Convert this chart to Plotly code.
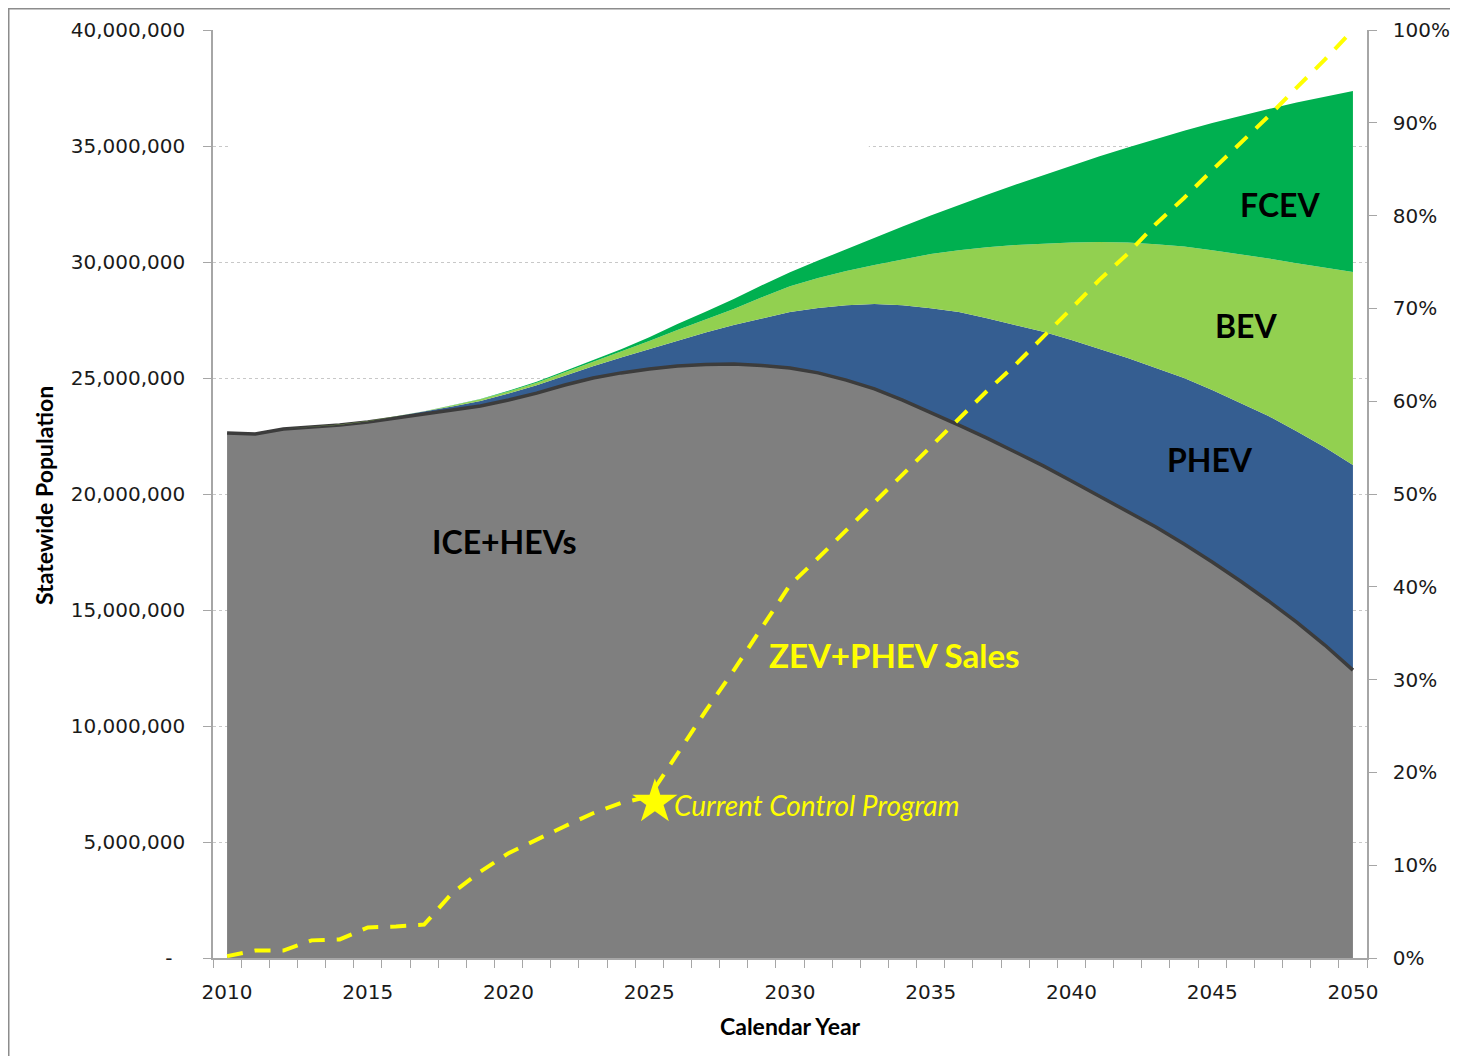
import plotly.graph_objects as go

# ---------------- data ----------------
years = list(range(2010, 2051))

# statewide population by technology, in millions of vehicles
ice_hev_m = [22.63, 22.59, 22.80, 22.89, 22.97, 23.10, 23.28, 23.45, 23.62, 23.79,
             24.05, 24.35, 24.70, 25.00, 25.22, 25.39, 25.52, 25.58, 25.60, 25.54,
             25.43, 25.22, 24.91, 24.53, 24.05, 23.53, 22.97, 22.41, 21.81, 21.21,
             20.56, 19.91, 19.27, 18.58, 17.84, 17.07, 16.25, 15.39, 14.48, 13.49,
             12.41]
phev_m = [0.00, 0.00, 0.01, 0.01, 0.02, 0.04, 0.06, 0.09, 0.15, 0.22,
          0.28, 0.34, 0.41, 0.51, 0.66, 0.86, 1.10, 1.38, 1.68, 2.03,
          2.41, 2.80, 3.23, 3.66, 4.09, 4.48, 4.87, 5.17, 5.47, 5.78,
          6.08, 6.34, 6.59, 6.85, 7.16, 7.41, 7.67, 7.97, 8.23, 8.53,
          8.84]
bev_m = [0.00, 0.00, 0.00, 0.00, 0.01, 0.01, 0.02, 0.03, 0.05, 0.07,
         0.09, 0.11, 0.14, 0.18, 0.25, 0.34, 0.45, 0.56, 0.69, 0.91,
         1.12, 1.29, 1.47, 1.68, 1.98, 2.33, 2.67, 3.06, 3.45, 3.81,
         4.20, 4.61, 4.98, 5.34, 5.67, 6.03, 6.42, 6.79, 7.24, 7.74,
         8.32]
fcev_m = [0.00, 0.00, 0.00, 0.00, 0.00, 0.00, 0.00, 0.00, 0.01, 0.02,
          0.03, 0.04, 0.05, 0.07, 0.11, 0.17, 0.26, 0.34, 0.43, 0.52,
          0.60, 0.75, 0.95, 1.18, 1.41, 1.66, 1.95, 2.26, 2.60, 2.95,
          3.32, 3.70, 4.10, 4.54, 4.99, 5.48, 5.96, 6.44, 6.92, 7.37,
          7.80]

# ZEV+PHEV share of new sales (%)
zev_phev_sales_pct = [0.2, 0.8, 0.8, 1.9, 2.0, 3.3, 3.4, 3.6, 7.0, 9.3,
                      11.3, 12.8, 14.2, 15.6, 16.7, 17.4, 22.0, 26.6, 31.0, 35.6,
                      40.2, 43.1, 46.1, 49.0, 52.0, 55.1, 58.0, 61.1, 63.9, 66.9,
                      70.0, 73.1, 75.9, 79.1, 81.9, 84.9, 87.8, 90.7, 93.8, 96.8,
                      100.0]

current_program_year = [2025.2]
current_program_pct = [16.8]

x_tick_years = [2010, 2015, 2020, 2025, 2030, 2035, 2040, 2045, 2050]
y_tick_vals = [0, 5e6, 10e6, 15e6, 20e6, 25e6, 30e6, 35e6, 40e6]
y_tick_text = ["-\u00a0\u00a0", "5,000,000", "10,000,000", "15,000,000", "20,000,000",
               "25,000,000", "30,000,000", "35,000,000", "40,000,000"]
y2_tick_vals = [0, 10, 20, 30, 40, 50, 60, 70, 80, 90, 100]
y2_tick_text = ["0%", "10%", "20%", "30%", "40%", "50%", "60%", "70%", "80%",
                "90%", "100%"]

M = 1e6
ice_hev = [v * M for v in ice_hev_m]
phev = [v * M for v in phev_m]
bev = [v * M for v in bev_m]
fcev = [v * M for v in fcev_m]

# ---------------- figure ----------------
fig = go.Figure()

fig.add_trace(go.Scatter(x=years, y=ice_hev, stackgroup="pop", mode="lines",
                         name="ICE+HEVs", fillcolor="#7f7f7f",
                         line=dict(color="#3c3c3c", width=3.5)))
fig.add_trace(go.Scatter(x=years, y=phev, stackgroup="pop", mode="lines",
                         name="PHEV", fillcolor="#355e91",
                         line=dict(color="#355e91", width=0)))
fig.add_trace(go.Scatter(x=years, y=bev, stackgroup="pop", mode="lines",
                         name="BEV", fillcolor="#92d050",
                         line=dict(color="#92d050", width=0)))
fig.add_trace(go.Scatter(x=years, y=fcev, stackgroup="pop", mode="lines",
                         name="FCEV", fillcolor="#00b050",
                         line=dict(color="#00b050", width=0)))

fig.add_trace(go.Scatter(x=years, y=zev_phev_sales_pct, yaxis="y2", mode="lines",
                         name="ZEV+PHEV Sales",
                         line=dict(color="#ffff00", width=4, dash="16px,12px")))
fig.add_trace(go.Scatter(x=current_program_year, y=current_program_pct, yaxis="y2",
                         mode="markers", name="Current Control Program",
                         marker=dict(symbol="star", size=34, color="#ffff00",
                                     line=dict(width=0))))

tick_font = dict(family="DejaVu Sans", size=20, color="#1a1a1a")
axis_grey = "#a6a6a6"

# the figure sits inside the page's 8px body margin
fig.update_layout(
    width=1450, height=1048,
    margin=dict(l=205, r=91, t=22, b=98, autoexpand=False),
    paper_bgcolor="white", plot_bgcolor="white",
    showlegend=False,
    xaxis=dict(range=[2009.5, 2050.5], tickmode="array", tickvals=x_tick_years,
               ticks="", showgrid=False, zeroline=False, automargin=False,
               showline=True, linecolor=axis_grey, linewidth=1.5,
               tickfont=tick_font, ticklabelstandoff=15,
               minor=dict(tick0=2009.5, dtick=1, ticks="outside", ticklen=8,
                          tickcolor=axis_grey, tickwidth=1, showgrid=False)),
    yaxis=dict(range=[0, 40e6], tickmode="array", tickvals=y_tick_vals,
               ticktext=y_tick_text, ticks="outside", ticklen=8, automargin=False,
               tickcolor=axis_grey, showline=True, linecolor=axis_grey,
               linewidth=1.5, showgrid=True, gridcolor="#c8c8c8", griddash="dot",
               gridwidth=1, zeroline=False, tickfont=tick_font,
               ticklabelstandoff=14),
    yaxis2=dict(range=[0, 100], overlaying="y", side="right", tickmode="array",
                tickvals=y2_tick_vals, ticktext=y2_tick_text, ticks="outside",
                ticklen=8, tickcolor=axis_grey, showline=True, linecolor=axis_grey,
                linewidth=1.5, showgrid=False, zeroline=False, tickfont=tick_font,
                ticklabelstandoff=12, automargin=False),
)

# outer frame of the picture (left and top edges visible)
fig.add_shape(type="rect", xref="paper", yref="paper",
              x0=(0.75 - 205) / 1154, x1=(1480 - 205) / 1154,
              y0=(950 - 1080) / 928, y1=(950 - 0.75) / 928,
              line=dict(color="#8c8c8c", width=1.5), fillcolor="rgba(0,0,0,0)")
# region where the 35M gridline is hidden in the original
fig.add_shape(type="rect", xref="x", yref="y", x0=2010.1, x1=2032.8,
              y0=34.8e6, y1=35.2e6, fillcolor="white", line=dict(width=0),
              layer="between")

label_font = dict(family="Lato", size=32, color="black")
center = dict(showarrow=False, xanchor="center", yanchor="middle")
fig.add_annotation(x=2019.84, y=17.97e6, text="<b>ICE+HEVs</b>", font=label_font, **center)
fig.add_annotation(x=2047.41, y=32.46e6, text="<b>FCEV</b>", font=label_font, **center)
fig.add_annotation(x=2046.20, y=27.28e6, text="<b>BEV</b>", font=label_font, **center)
fig.add_annotation(x=2044.92, y=21.47e6, text="<b>PHEV</b>", font=label_font, **center)
fig.add_annotation(x=2033.73, y=13.06e6, text="<b>ZEV+PHEV Sales</b>",
                   font=dict(family="Lato", size=33, color="#ffff00"), **center)
fig.add_annotation(x=2025.81, y=6.59e6, text="<i>Current Control Program</i>",
                   showarrow=False, xanchor="left", yanchor="middle",
                   font=dict(family="Lato", size=28, color="#ffff00"))

# axis titles
fig.add_annotation(xref="paper", yref="paper", x=(790 - 213) / 1154,
                   y=(958 - 1026) / 928, text="<b>Calendar Year</b>",
                   font=dict(family="Lato", size=23, color="black"), **center)
fig.add_annotation(xref="paper", yref="paper", x=(44 - 213) / 1154,
                   y=(958 - 495) / 928, text="<b>Statewide Population</b>",
                   textangle=-90, font=dict(family="Lato", size=23, color="black"),
                   **center)

fig.write_html("out.html")
